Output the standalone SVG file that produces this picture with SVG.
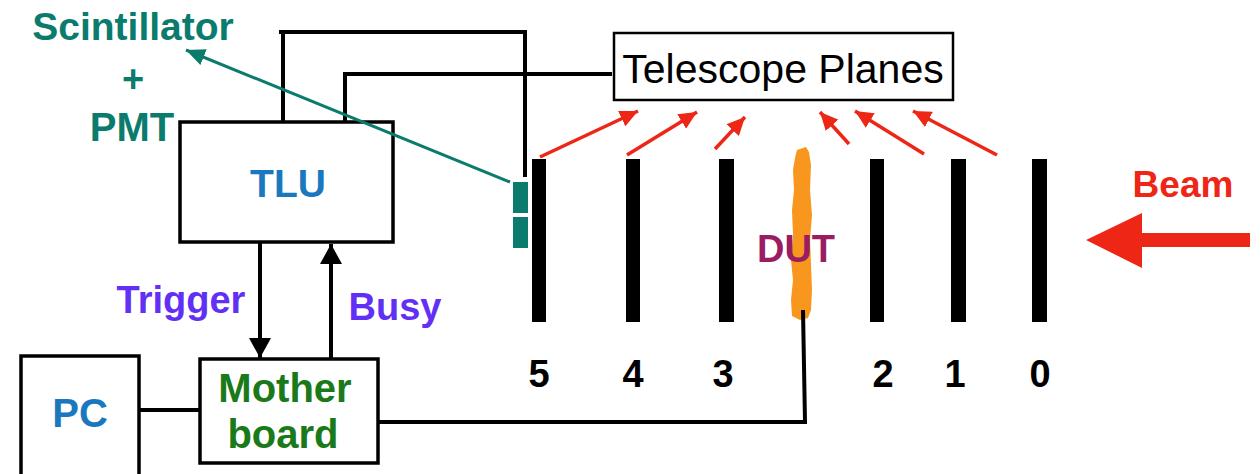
<svg xmlns="http://www.w3.org/2000/svg" width="1260" height="474" viewBox="0 0 1260 474">
<defs>
<style>
.box{fill:#fff;stroke:#000;stroke-width:3.5}
.wire{fill:none;stroke:#000;stroke-width:4}
.b{font-family:"Liberation Sans",Arial,sans-serif;font-weight:bold}
.teal{fill:#0b7b6e}
.blue{fill:#1a78be}
.purple{fill:#6230f5}
.green{fill:#1a7a19}
.bar{fill:#000}
.red{stroke:#ee2616;stroke-width:3.5;fill:none}
</style>
<marker id="ahBlack" markerUnits="userSpaceOnUse" markerWidth="20" markerHeight="22" refX="20" refY="11" orient="auto"><path d="M0,0 L20,11 L0,22 z" fill="#000"/></marker>
<marker id="ahRed" markerUnits="userSpaceOnUse" markerWidth="18" markerHeight="17" refX="18" refY="8.5" orient="auto"><path d="M0,0 L18,8.5 L0,17 z" fill="#ee2616"/></marker>
<marker id="ahTeal" markerUnits="userSpaceOnUse" markerWidth="19" markerHeight="17" refX="19" refY="8.5" orient="auto"><path d="M0,0 L19,8.5 L0,17 z" fill="#0b7b6e"/></marker>
</defs>
<rect width="1260" height="474" fill="#fff"/>

<g id="scintillator-label">
<text class="b teal" x="133" y="40" font-size="39" text-anchor="middle">Scintillator</text>
<text class="b teal" x="133" y="92" font-size="38" text-anchor="middle">+</text>
<text class="b teal" x="132" y="141" font-size="40" text-anchor="middle">PMT</text>
</g>

<g id="scintillator">
<rect class="teal" x="513" y="182" width="15" height="31"/>
<rect class="teal" x="513" y="217" width="15" height="31"/>
</g>

<g id="tlu">
<rect class="box" x="180" y="122" width="213" height="120"/>
<text class="b blue" x="288" y="197" font-size="39" text-anchor="middle">TLU</text>
</g>

<g id="telescope-planes">
<rect x="614" y="33" width="339" height="67" fill="#fff" stroke="#000" stroke-width="2.5"/>
<text x="783" y="83" font-family="'Liberation Sans',Arial,sans-serif" font-size="41" text-anchor="middle" fill="#000">Telescope Planes</text>
</g>

<g id="trigger-label"><text class="b purple" x="181" y="313" font-size="38" text-anchor="middle">Trigger</text></g>
<g id="busy-label"><text class="b purple" x="395" y="320" font-size="38" text-anchor="middle">Busy</text></g>

<g id="pc">
<rect class="box" x="21" y="356" width="118" height="130"/>
<text class="b blue" x="80" y="427" font-size="40" text-anchor="middle">PC</text>
</g>

<g id="motherboard">
<rect class="box" x="200" y="359" width="178" height="104"/>
<text class="b green" x="285" y="402" font-size="40" text-anchor="middle">Mother</text>
<text class="b green" x="283" y="448" font-size="40" text-anchor="middle">board</text>
</g>

<g id="plane-5"><rect class="bar" x="532" y="159" width="14" height="163"/><text class="b" x="539" y="387" font-size="38" text-anchor="middle">5</text></g>
<g id="plane-4"><rect class="bar" x="626" y="159" width="14" height="163"/><text class="b" x="633" y="387" font-size="38" text-anchor="middle">4</text></g>
<g id="plane-3"><rect class="bar" x="719" y="159" width="15" height="163"/><text class="b" x="723" y="387" font-size="38" text-anchor="middle">3</text></g>
<g id="plane-2"><rect class="bar" x="870" y="159" width="14" height="163"/><text class="b" x="883" y="387" font-size="38" text-anchor="middle">2</text></g>
<g id="plane-1"><rect class="bar" x="951" y="159" width="15" height="163"/><text class="b" x="955" y="387" font-size="38" text-anchor="middle">1</text></g>
<g id="plane-0"><rect class="bar" x="1032" y="159" width="15" height="163"/><text class="b" x="1040" y="387" font-size="38" text-anchor="middle">0</text></g>

<g id="dut">
<path d="M797,150 L806,147 L809,152 L811,165 L810,190 L812,215 L810,240 L811,265 L812,290 L811,310 L808,318 L800,320 L792,316 L791,300 L793,280 L791,260 L793,235 L792,210 L794,190 L793,170 L795,158 Z" fill="#f9961e"/>
<text class="b" x="796" y="262" font-size="38" text-anchor="middle" fill="#9a1c62">DUT</text>
</g>

<g id="beam">
<text class="b" x="1183" y="197" font-size="37" text-anchor="middle" fill="#ee2616">Beam</text>
<path d="M1086,240 L1142,213 L1142,233 L1250,233 L1250,247 L1142,247 L1142,268 Z" fill="#ee2616"/>
</g>

<g id="connectors">
<polyline class="wire" points="279,32 525,32 525,177"/>
<polyline class="wire" points="283,32 283,122"/>
<polyline class="wire" points="345,122 345,74 612,74"/>
<line class="wire" x1="260" y1="242" x2="260" y2="358" marker-end="url(#ahBlack)"/>
<line class="wire" x1="331" y1="359" x2="331" y2="244" marker-end="url(#ahBlack)"/>
<line class="wire" x1="139" y1="410" x2="200" y2="410"/>
<polyline class="wire" points="378,422 805,422 803,310"/>
<line x1="510" y1="182" x2="186" y2="50" stroke="#0b7b6e" stroke-width="3" marker-end="url(#ahTeal)"/>
<line class="red" x1="540" y1="157" x2="638" y2="111" marker-end="url(#ahRed)"/>
<line class="red" x1="627" y1="155" x2="697" y2="112" marker-end="url(#ahRed)"/>
<line class="red" x1="715" y1="149" x2="745" y2="117" marker-end="url(#ahRed)"/>
<line class="red" x1="849" y1="144" x2="820" y2="112" marker-end="url(#ahRed)"/>
<line class="red" x1="924" y1="154" x2="855" y2="111" marker-end="url(#ahRed)"/>
<line class="red" x1="997" y1="155" x2="913" y2="111" marker-end="url(#ahRed)"/>
</g>
</svg>
